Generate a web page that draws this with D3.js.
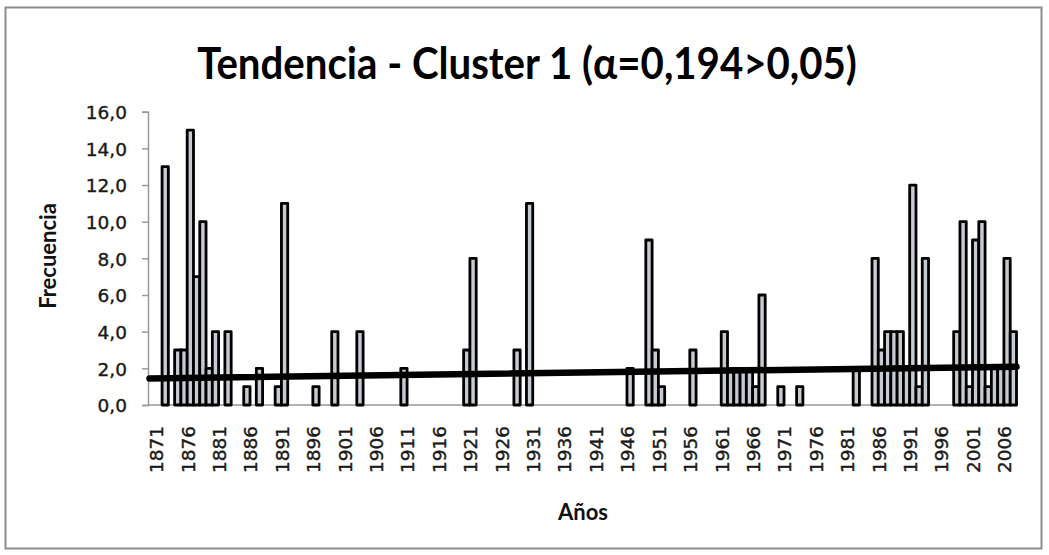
<!DOCTYPE html>
<html>
<head>
<meta charset="utf-8">
<script src="https://cdn.jsdelivr.net/npm/d3@7"></script>
<style>
  html, body { margin: 0; padding: 0; background: #fff; }
  svg { display: block; }
  .year-label, .value-label {
    font-family: 'DejaVu Sans', sans-serif; font-size: 18.5px;
    fill: #1a1a1a; stroke: #1a1a1a; stroke-width: 0.4px;
  }
  .axis-title { font-family: Lato, 'Open Sans', sans-serif; font-weight: bold; font-size: 22px; fill: #111; }
  .chart-title { font-family: Lato, 'Open Sans', sans-serif; font-weight: bold; fill: #000; }
</style>
</head>
<body>
<svg id="chart"></svg>
<script>
const WIDTH = 1049, HEIGHT = 555

// every year on the category axis
const categories = d3.range(1870, 2008)

// years that have a bar, and their frequency
const barYears = [1872, 1874, 1875, 1876, 1877, 1878, 1879, 1880, 1882,
  1885, 1887, 1890, 1891, 1896, 1899, 1903, 1910,
  1920, 1921, 1928, 1930,
  1946, 1949, 1950, 1951, 1956,
  1961, 1962, 1963, 1964, 1965, 1966, 1967,
  1970, 1973,
  1982, 1985, 1986, 1987, 1988, 1989, 1990,
  1991, 1992, 1993,
  1998, 1999, 2000, 2001, 2002, 2003, 2004, 2005, 2006, 2007]
const barValues = [13, 3, 3, 15, 7, 10, 2, 4, 4,
  1, 2, 1, 11, 1, 4, 4, 2,
  3, 8, 3, 11,
  2, 9, 3, 1, 3,
  4, 2, 2, 2, 2, 1, 6,
  1, 1,
  2, 8, 3, 4, 4, 4, 2,
  12, 1, 8,
  4, 10, 1, 9, 10, 1, 2, 2, 8, 4]

// linear trend, value at the left and right end of the plot
const trendValues = [1.45, 2.09]

const xTickLabels = [1871, 1876, 1881, 1886, 1891, 1896, 1901, 1906, 1911, 1916,
  1921, 1926, 1931, 1936, 1941, 1946, 1951, 1956, 1961, 1966,
  1971, 1976, 1981, 1986, 1991, 1996, 2001, 2006]
const yTicks = [0, 2, 4, 6, 8, 10, 12, 14, 16]

const titleText = 'Tendencia - Cluster 1 (\u03B1=0,194>0,05)'

const PLOT = { left: 149.5, right: 1016.5, top: 111.7, bottom: 405 }

const $svg = d3.select('#chart')
  .attr('width', WIDTH)
  .attr('height', HEIGHT)

const xScale = d3.scaleBand()
  .domain(categories)
  .range([PLOT.left, PLOT.right])
  .paddingInner(0)
  .paddingOuter(0)

const yScale = d3.scaleLinear()
  .domain([0, 16])
  .range([PLOT.bottom, PLOT.top])

const fmt = d => d3.format('.1f')(d).replace('.', ',')

// outer chart border
$svg.append('rect')
  .attr('x', 5.5).attr('y', 7.5)
  .attr('width', 1036).attr('height', 541)
  .attr('fill', '#fff')
  .attr('stroke', '#8c8c8c')
  .attr('stroke-width', 2)

// title: tall bold face, squeezed horizontally to the reference width
const TITLE_W = 660, TITLE_CX = 527
const $title = $svg.append('text')
  .attr('class', 'chart-title')
  .attr('text-anchor', 'middle')
  .style('font-size', '44px')
  .text(titleText)
const tw = $title.node().getComputedTextLength()
$title.attr('transform', `translate(${TITLE_CX},79) scale(${TITLE_W / tw},1)`)

// y axis
const $yAxis = $svg.append('g')
  .attr('transform', `translate(${PLOT.left - 1.5},0)`)
  .call(d3.axisLeft(yScale).tickValues(yTicks).tickSize(6).tickFormat(fmt))
$yAxis.select('.domain').attr('stroke', '#9a9a9a').attr('stroke-width', 1.5)
$yAxis.selectAll('.tick line').attr('stroke', '#9a9a9a').attr('stroke-width', 1.5)
$yAxis.selectAll('.tick text')
  .attr('class', 'value-label')
  .attr('x', -21)
  .attr('dy', '0.36em')
  .attr('font-family', null).attr('font-size', null)

// x axis line
$svg.append('line')
  .attr('x1', PLOT.left - 1.5).attr('x2', PLOT.right)
  .attr('y1', PLOT.bottom).attr('y2', PLOT.bottom)
  .attr('stroke', '#9a9a9a')
  .attr('stroke-width', 1.5)

// bars
const bars = barYears.map((y, i) => ({ year: y, value: barValues[i] }))
$svg.append('g')
  .attr('class', 'bars')
  .selectAll('rect')
  .data(bars)
  .enter()
  .append('rect')
    .attr('x', d => xScale(d.year))
    .attr('y', d => yScale(d.value))
    .attr('width', xScale.bandwidth())
    .attr('height', d => yScale(0) - yScale(d.value))
    .attr('fill', '#c6cbd2')
    .attr('stroke', '#000')
    .attr('stroke-width', 2.8)
    .attr('stroke-linejoin', 'round')

// trend line
$svg.append('line')
  .attr('x1', PLOT.left).attr('x2', PLOT.right)
  .attr('y1', yScale(trendValues[0]))
  .attr('y2', yScale(trendValues[1]))
  .attr('stroke', '#000')
  .attr('stroke-width', 6.5)
  .attr('stroke-linecap', 'round')

// x tick labels, rotated
$svg.append('g')
  .selectAll('text')
  .data(xTickLabels)
  .enter()
  .append('text')
    .attr('class', 'year-label')
    .attr('transform', d => `translate(${xScale(d) + xScale.bandwidth() / 2 - 2.5},426) rotate(-90)`)
    .attr('text-anchor', 'end')
    .attr('dy', '0.36em')
    .text(d => d)

// axis titles
$svg.append('text')
  .attr('class', 'axis-title')
  .attr('transform', 'translate(56,256) rotate(-90)')
  .attr('text-anchor', 'middle')
  .text('Frecuencia')

$svg.append('text')
  .attr('class', 'axis-title')
  .attr('x', 583)
  .attr('y', 520)
  .attr('text-anchor', 'middle')
  .text('Años')
</script>
</body>
</html>
